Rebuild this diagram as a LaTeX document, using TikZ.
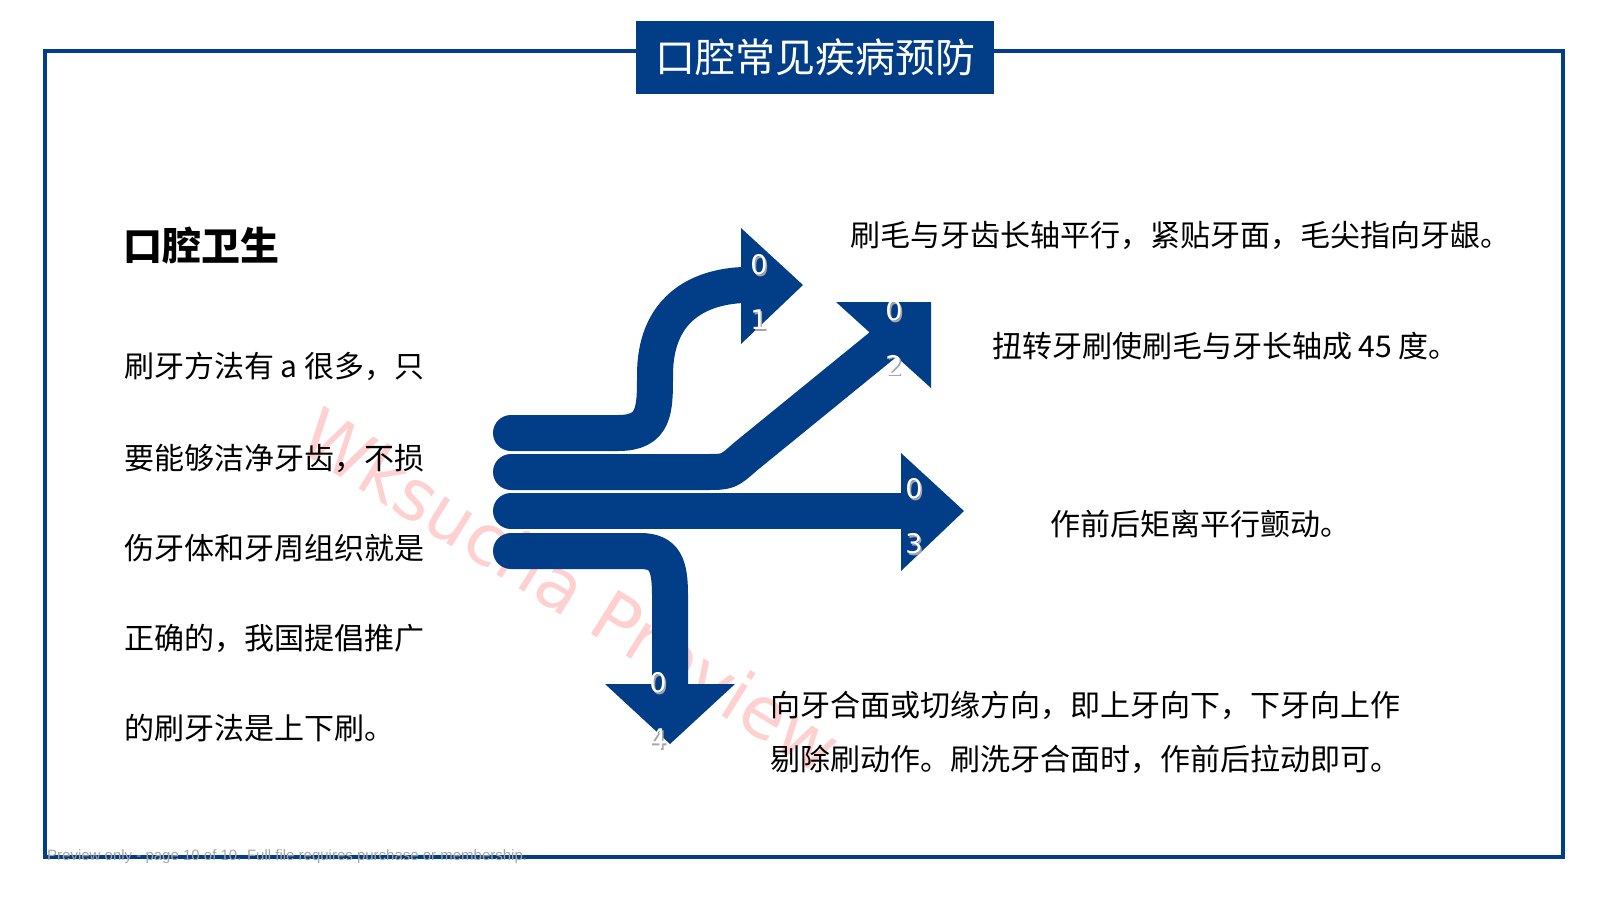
\documentclass[tikz,border=0pt]{standalone}
\usepackage{fontspec}
\setmainfont{Noto Sans CJK SC}
\newfontfamily\cjk{Noto Sans CJK SC}
\newfontfamily\dv{DejaVu Sans}
\begin{document}
\begin{tikzpicture}[x=1pt,y=-1pt,
  band/.style={line width=36pt,draw=myblue},
  gap/.style={line width=40pt,draw=white},
  head/.style={fill=myblue},
  num/.style={text=white,font=\dv\fontsize{27}{28}\selectfont,inner sep=0},
  nsh/.style={text=black!35,font=\dv\fontsize{27}{28}\selectfont,inner sep=0},
  body/.style={font=\cjk\fontsize{30}{32}\selectfont,anchor=west,inner sep=0},
  para/.style={font=\cjk\fontsize{30}{32}\selectfont,anchor=west,inner sep=0}]
\definecolor{myblue}{HTML}{023D87}
\useasboundingbox (0,0) rectangle (1601,900);
\fill[white] (0,0) rectangle (1601,900);
\draw[myblue,line width=4.5pt] (45,51) rectangle (1563,857);
\node[fill=myblue,minimum width=358pt,minimum height=73pt,inner sep=0,text=white,font=\cjk\fontsize{40}{42}\selectfont] (title) at (815,57.5) {口腔常见疾病预防};
% watermark
\node[rotate=-32,text=red!60!white,opacity=0.3,font=\fontspec{DejaVu Sans}\fontsize{71}{72}\selectfont] (wm) at (571,590) {Wksucha Preview};
% bands
\draw[band,line cap=round] (511,551) -- (640,551) .. controls (665,551) and (670,565) .. (670,595) -- (670,686);
\fill[head] (605,684) -- (735,684) -- (670,744) -- cycle;
\draw[gap,line cap=round] (511,511) -- (905,511);
\draw[band,line cap=round] (511,511) -- (905,511);
\fill[head] (901,453) -- (964,511) -- (901,571) -- cycle;
\draw[gap,line cap=round] (511,472) -- (705,472) .. controls (728,472) .. (745,457) -- (885,343);
\draw[band,line cap=round] (511,472) -- (705,472) .. controls (728,472) .. (745,457) -- (885,343);
\fill[head] (836,302) -- (931,302) -- (931,388) -- cycle;
\draw[gap,line cap=round] (511,433) -- (618,433) .. controls (655,433) and (655,410) .. (655,375) .. controls (655,310) and (697,287) .. (743,285);
\draw[band,line cap=round] (511,433) -- (618,433) .. controls (655,433) and (655,410) .. (655,375) .. controls (655,310) and (697,287) .. (743,285);
\fill[head] (741,228) -- (803,285) -- (741,344) -- cycle;
% numbers
\foreach \n/\t/\px/\py in {n1a/0/759/265, n1b/1/759/320, n2a/0/894/311, n2b/2/894/365, n3a/0/914/489, n3b/3/914/544, n4a/0/658/683, n4b/4/658/739}{
  \node[nsh] (\n s) at (\px+1.5,\py+1.5) {\t};
  \node[num] (\n) at (\px,\py) {\t};
}
% left text
\node[anchor=west,inner sep=0,font=\cjk\fontsize{39}{40}\selectfont\bfseries] (h) at (123,246) {口腔卫生};
\node[para] (p1) at (124,366) {刷牙方法有 a 很多，只};
\node[para] (p2) at (124,458) {要能够洁净牙齿，不损};
\node[para] (p3) at (124,548) {伤牙体和牙周组织就是};
\node[para] (p4) at (124,638) {正确的，我国提倡推广};
\node[para] (p5) at (124,728) {的刷牙法是上下刷。};
% right text
\node[body] (t1) at (850,235) {刷毛与牙齿长轴平行，紧贴牙面，毛尖指向牙龈。};
\node[body] (t2) at (992,346) {扭转牙刷使刷毛与牙长轴成 45 度。};
\node[body] (t3) at (1050,524) {作前后矩离平行颤动。};
\node[body] (t4) at (770,705) {向牙合面或切缘方向，即上牙向下，下牙向上作};
\node[body] (t5) at (770,759) {剔除刷动作。刷洗牙合面时，作前后拉动即可。};
\node[anchor=west,inner sep=0,text=gray!70,font=\fontspec{Liberation Sans}\fontsize{15}{16}\selectfont] (ft) at (47,857) {Preview only - page 10 of 10. Full file requires purchase or membership.};
\end{tikzpicture}
\end{document}
